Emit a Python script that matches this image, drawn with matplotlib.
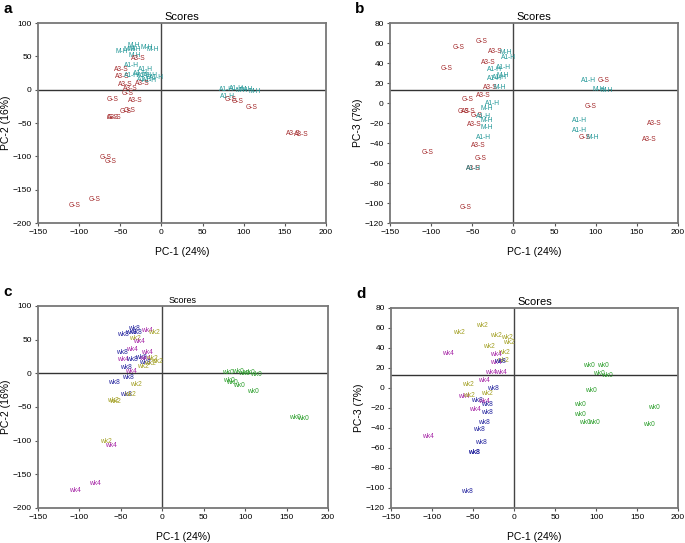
import matplotlib
matplotlib.use('Agg')
import matplotlib.pyplot as plt

plt.rcParams['font.family'] = ['Liberation Sans', 'DejaVu Sans']

# panel a / c : PC-1 vs PC-2 (same samples, different labels)
pc1_a = [-34, -48, -32, -38, -18, -10, -33, -28, -37, -49, -19, -48, -37, -26, -21, -13, -6, -21, -15,
         -23, -44, -38, -41, -59, -32, -44, -39, -57, -60, -68, -62, -81, -106,
         79, 91, 98, 104, 113, 80, 84, 92, 109, 160, 170]
pc2_a = [67, 58, 61, 61, 63, 60, 51, 47, 36, 31, 31, 20, 21, 24, 22, 22, 18, 16, 14,
         10, 8.5, 2.5, -6, -14, -16, -32, -31, -41.5, -41, -102, -107, -164, -174,
         0.5, 2.5, -1, 0.5, -2, -10, -14, -18, -26.5, -65, -67]
grp_a = ['M-H', 'M-H', 'M-H', 'M-H', 'M-H', 'M-H', 'M-H', 'A3-S', 'A1-H', 'A3-S', 'A1-H', 'A3-S', 'A1-H',
         'A1-H', 'A1-H', 'A1-H', 'A1-H', 'A1-H', 'A1-H',
         'A3-S', 'A3-S', 'A3-S', 'G-S', 'G-S', 'A3-S', 'G-S', 'G-S', 'A3-S', 'G-S', 'G-S', 'G-S', 'G-S', 'G-S',
         'A1-H', 'A1-H', 'M-H', 'M-H', 'M-H', 'A1-H', 'G-S', 'G-S', 'G-S', 'A3-S', 'A3-S']
week_c = ['wk8', 'wk8', 'wk8', 'wk8', 'wk4', 'wk2', 'wk2', 'wk4', 'wk4', 'wk8', 'wk4', 'wk4', 'wk8',
          'wk8', 'wk4', 'wk2', 'wk2', 'wk8', 'wk2',
          'wk2', 'wk8', 'wk4', 'wk8', 'wk8', 'wk2', 'wk8', 'wk2', 'wk2', 'wk2', 'wk2', 'wk4', 'wk4', 'wk4',
          'wk0', 'wk0', 'wk0', 'wk0', 'wk0', 'wk0', 'wk0', 'wk0', 'wk0', 'wk0', 'wk0']

# panel b / d : PC-1 vs PC-3
pc1_b = [-39, -67, -22.5, -9, -6, -31, -81, -12, -22.5, -13, -22.5, -17, -28.6, -16.5, -36.7, -55.7,
         -25.4, -32.6, -61, -55, -44.8, -36.7, -32.6, -47.6, -32.6, -36.7, -42.8, -40, -48.8, -48.8,
         -104.7, -57.7,
         91, 109, 104, 113, 93.6, 80.7, 80, 86, 97, 171, 164.5]
pc3_b = [62, 55.4, 52, 50.4, 45.5, 41, 34.5, 35.5, 33.8, 27.8, 25, 26, 15.5, 15.5, 7.2, 3.6,
         -0.4, -5.4, -8.7, -8, -12.7, -13.7, -17, -21.3, -24.6, -34.6, -42, -55, -65, -65,
         -49, -104,
         22.9, 22.9, 14, 12.2, -3, -17, -27, -34.3, -34.6, -20, -36.3]
grp_b = ['G-S', 'G-S', 'A3-S', 'M-H', 'A1-H', 'A3-S', 'G-S', 'A1-H', 'A1-H', 'M-H', 'A1-H', 'A1-H',
         'A3-S', 'M-H', 'A3-S', 'G-S', 'A1-H', 'M-H', 'G-S', 'A3-S', 'G-S', 'A1-H', 'M-H', 'A3-S',
         'M-H', 'A1-H', 'A3-S', 'G-S', 'A3-S', 'A1-H', 'G-S', 'G-S',
         'A1-H', 'G-S', 'M-H', 'M-H', 'G-S', 'A1-H', 'A1-H', 'G-S', 'M-H', 'A3-S', 'A3-S']
week_d = ['wk2', 'wk2', 'wk2', 'wk2', 'wk2', 'wk2', 'wk4', 'wk2', 'wk4', 'wk2', 'wk4', 'wk8',
          'wk4', 'wk4', 'wk4', 'wk2', 'wk8', 'wk2', 'wk4', 'wk2', 'wk8', 'wk4', 'wk8', 'wk4',
          'wk8', 'wk8', 'wk8', 'wk8', 'wk8', 'wk8', 'wk4', 'wk8',
          'wk0', 'wk0', 'wk0', 'wk0', 'wk0', 'wk0', 'wk0', 'wk0', 'wk0', 'wk0', 'wk0']

grp_colors = {'M-H': '#1f9696', 'A1-H': '#1f9696', 'A3-S': '#a3282a', 'G-S': '#a3282a'}
week_colors = {'wk0': '#2c9f2c', 'wk2': '#a3a024', 'wk4': '#a523a5', 'wk8': '#23239e'}

fig = plt.figure(figsize=(6.85, 5.43), dpi=100)


def panel(rect, xs, ys, labels, colors, ylim, yticks, ylab, hline, title, tsize, letter):
    ax = fig.add_axes(rect)
    for x, y, t in zip(xs, ys, labels):
        ax.text(x, y, t, color=colors[t], fontsize=4.8, ha='center', va='center')
    ax.set_xlim(-150, 200)
    ax.set_ylim(*ylim)
    ax.set_xticks(range(-150, 201, 50))
    ax.set_yticks(yticks)
    ax.axhline(hline, color='#333333', lw=1.0)
    ax.axvline(0, color='#444444', lw=1.0)
    for s in ax.spines.values():
        s.set_color('#777777')
        s.set_linewidth(1.3)
    ax.tick_params(labelsize=6, length=2.5, width=0.8, color='#555555', pad=2)
    ax.set_xlabel('PC-1 (24%)', fontsize=7.5, labelpad=8)
    ax.set_ylabel(ylab, fontsize=7.5, labelpad=1)
    ax.set_title(title, fontsize=tsize, pad=2)
    ax.text(-0.12, 1.07, letter, transform=ax.transAxes, fontsize=11, fontweight='bold',
            ha='left', va='center')
    return ax


panel([0.0555, 0.5893, 0.4205, 0.3683], pc1_a, pc2_a, grp_a, grp_colors,
      (-200, 100), range(-200, 101, 50), 'PC-2 (16%)', 0, 'Scores', 8, 'a')
panel([0.5693, 0.5893, 0.4205, 0.3683], pc1_b, pc3_b, grp_b, grp_colors,
      (-120, 80), range(-120, 81, 20), 'PC-3 (7%)', 13, 'Scores', 8, 'b')
panel([0.0555, 0.0645, 0.4233, 0.3720], pc1_a, pc2_a, week_c, week_colors,
      (-200, 100), range(-200, 101, 50), 'PC-2 (16%)', 0, 'Scores', 6.5, 'c')
panel([0.5708, 0.0645, 0.4190, 0.3683], pc1_b, pc3_b, week_d, week_colors,
      (-120, 80), range(-120, 81, 20), 'PC-3 (7%)', 13, 'Scores', 8, 'd')

fig.savefig('out.png', dpi=100)
